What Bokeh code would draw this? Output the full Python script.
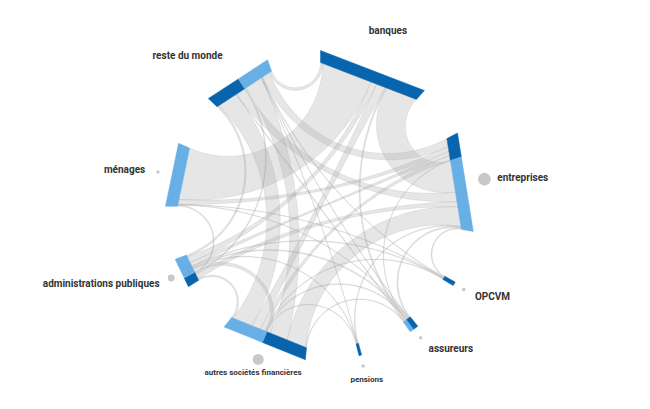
import numpy as np
from bokeh.plotting import figure
from bokeh.models import Range1d, ColumnDataSource
from bokeh.embed import file_html
from bokeh.resources import INLINE
from bokeh.core.properties import value, field

# ---------------- data ----------------
nodes = ["banques", "entreprises", "OPCVM", "assureurs", "pensions",
         "autres sociétés financières", "administrations publiques",
         "ménages", "reste du monde"]

# flows[source][target]  (order of columns = order of nodes)
flows = [
    [0, 13.0, 0, 0.7, 0, 3.8, 2.5, 21.2, 1.0],   # banques
    [0, 0, 0, 0.2, 0, 1.9, 1.7, 2.0, 3.3],       # entreprises
    [0, 0.4, 0, 0, 0, 0.3, 0.3, 0.2, 0.3],       # OPCVM
    [0, 0.5, 0, 0, 0, 0.4, 0.6, 0.2, 0.3],       # assureurs
    [0, 0.3, 0, 0, 0, 0.2, 0.3, 0, 0.2],         # pensions
    [0, 8.2, 0, 0.3, 0, 0, 1.5, 0, 7.4],         # autres sociétés financières
    [0, 2.1, 0, 0, 0, 0.6, 0, 0.4, 0.5],         # administrations publiques
    [0, 0, 0, 0, 0, 0, 0, 0, 0],                 # ménages
    [0, 4.0, 0, 0.3, 0, 8.3, 0.8, 0, 0],         # reste du monde
]

# intra-sector amounts (grey dots)
intra = [0, 40, 3, 3, 3, 30, 12, 3, 0]

# ---------------- layout ----------------
W, H = 634, 393
cx, cy = 320, 205
R_OUT, R_IN = 155, 143
GAP = 20.0
START = 90.0
DARK = "#0865ad"
LIGHT = "#68afe6"

n = len(nodes)
out_tot = [sum(r) for r in flows]
in_tot = [sum(flows[i][j] for i in range(n)) for j in range(n)]
total = sum(out_tot) + sum(in_tot)
k = (360 - n * GAP) / total
C = np.array([cx, cy], dtype=float)


def pt(r, a):
    t = np.radians(a)
    return np.array([cx + r * np.cos(t), cy - r * np.sin(t)])


node_a0, node_a1 = [], []
a = START
for i in range(n):
    span = k * (out_tot[i] + in_tot[i])
    node_a0.append(a)
    node_a1.append(a - span)
    a = a - span - GAP


def chord_pt(i, f, r):
    p0 = pt(r, node_a0[i])
    p1 = pt(r, node_a1[i])
    return p0 + (p1 - p0) * f


p = figure(width=W, height=H, x_range=Range1d(0, W), y_range=Range1d(H, 0),
           output_backend="svg", toolbar_location=None, min_border=0,
           outline_line_color=None, background_fill_color="white",
           border_fill_color="white")
p.xaxis.visible = False
p.yaxis.visible = False
p.xgrid.visible = False
p.ygrid.visible = False

# sub-segment fractions
out_seg = {}
in_seg = {}
for i in range(n):
    tot = out_tot[i] + in_tot[i]
    if tot == 0:
        continue
    pos = 0.0
    order = sorted([j for j in range(n) if flows[i][j] > 0], key=lambda j: (i - j) % n)
    for j in order:
        v = flows[i][j]
        out_seg[(i, j)] = (pos / tot, (pos + v) / tot)
        pos += v
    order = sorted([s for s in range(n) if flows[s][i] > 0], key=lambda s: (i - s) % n)
    for s in order:
        v = flows[s][i]
        in_seg[(s, i)] = (pos / tot, (pos + v) / tot)
        pos += v


def geo(p0, p1, m=60):
    """Arc orthogonal to the circle, from p0 to p1 (screen coords)."""
    u0 = (p0 - C) / np.linalg.norm(p0 - C) * R_IN
    u1 = (p1 - C) / np.linalg.norm(p1 - C) * R_IN
    t = np.linspace(0, 1, m)[:, None]
    cosd = np.clip(np.dot(u0, u1) / R_IN ** 2, -1, 1)
    d = np.arccos(cosd)
    if d > np.radians(178) or d < 1e-6:
        base = u0 + (u1 - u0) * t
    else:
        mvec = (u0 + u1)
        mvec = mvec / np.linalg.norm(mvec)
        cc = mvec * R_IN / np.cos(d / 2)
        f0 = np.arctan2(*(u0 - cc)[::-1])
        f1 = np.arctan2(*(u1 - cc)[::-1])
        df = (f1 - f0 + np.pi) % (2 * np.pi) - np.pi
        rr = R_IN * np.tan(d / 2)
        ang = f0 + df * t[:, 0]
        base = cc + rr * np.column_stack([np.cos(ang), np.sin(ang)])
    corr = (p0 - C - u0) * (1 - t) + (p1 - C - u1) * t
    return C + base + corr


rxs, rys, rw = [], [], []
for (i, j), (f0, f1) in out_seg.items():
    g0, g1 = in_seg[(i, j)]
    s0 = chord_pt(i, f0, R_IN)
    s1 = chord_pt(i, f1, R_IN)
    t0 = chord_pt(j, g0, R_IN)
    t1 = chord_pt(j, g1, R_IN)
    path = np.vstack([s0[None], geo(s1, t0), geo(t1, s0)])
    rxs.append(list(path[:, 0]))
    rys.append(list(path[:, 1]))
    rw.append(flows[i][j])

order = np.argsort(rw)[::-1]
p.patches([rxs[o] for o in order], [rys[o] for o in order],
          fill_color="#acacac", fill_alpha=0.3,
          line_color="#9a9a9a", line_alpha=0.3, line_width=0.6)

# node bars
bxs, bys, bcol = [], [], []
for i in range(n):
    tot = out_tot[i] + in_tot[i]
    fd = out_tot[i] / tot
    for (f0, f1, col) in [(0.0, fd, DARK), (fd, 1.0, LIGHT)]:
        if f1 - f0 <= 0:
            continue
        q = [chord_pt(i, f0, R_OUT), chord_pt(i, f1, R_OUT),
             chord_pt(i, f1, R_IN), chord_pt(i, f0, R_IN)]
        bxs.append([c[0] for c in q])
        bys.append([c[1] for c in q])
        bcol.append(col)
p.patches(bxs, bys, fill_color=bcol, line_color=bcol, line_width=0.5)

# grey dots
dx, dy, ds = [], [], []
for i in range(n):
    if intra[i] <= 0:
        continue
    mid = (node_a0[i] + node_a1[i]) / 2
    r = np.sqrt(intra[i])
    c = pt(166, mid)
    dx.append(c[0]); dy.append(c[1]); ds.append(2 * r)
p.scatter(dx, dy, size=ds, fill_color="#c8c8c8", line_color=None)

# labels
small = {"autres sociétés financières", "pensions"}
groups = {"left": dict(x=[], y=[], t=[], fs=[]),
          "right": dict(x=[], y=[], t=[], fs=[]),
          "center": dict(x=[], y=[], t=[], fs=[])}
for i in range(n):
    mid = (node_a0[i] + node_a1[i]) / 2
    cs, sn = np.cos(np.radians(mid)), np.sin(np.radians(mid))
    if abs(cs) < 0.45:
        al = "center"
        r = 180 + 8 * max(0, sn)
    else:
        al = "left" if cs > 0 else "right"
        r = 179
    c = pt(r, mid)
    g = groups[al]
    g["x"].append(c[0]); g["y"].append(c[1]); g["t"].append(nodes[i])
    g["fs"].append("8px" if nodes[i] in small else "10px")

for al, g in groups.items():
    if not g["t"]:
        continue
    src = ColumnDataSource(g)
    p.text(x="x", y="y", text="t", source=src, text_align=al,
           text_baseline="middle", text_font=value("Roboto"),
           text_font_style="bold", text_font_size=field("fs"),
           text_color="#333333")

open("out.html", "w").write(file_html(p, INLINE))
